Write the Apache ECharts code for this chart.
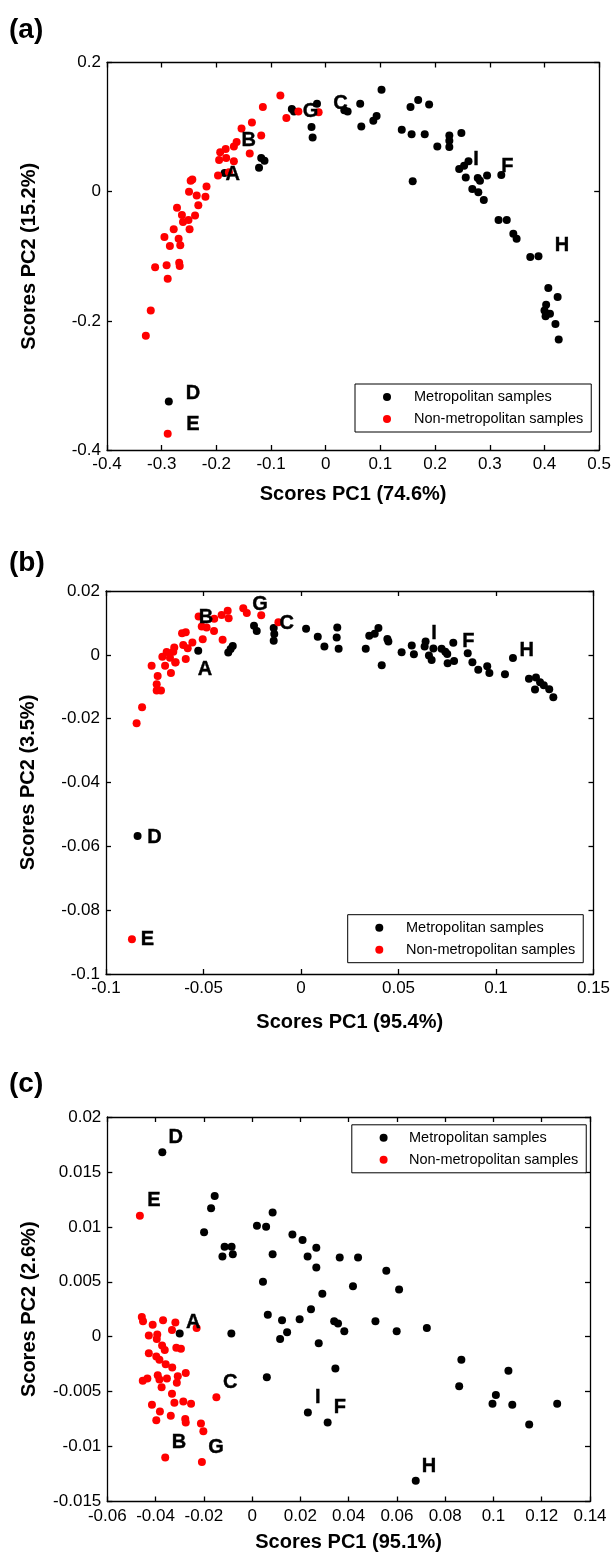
<!DOCTYPE html>
<html>
<head>
<meta charset="utf-8">
<script src="https://cdn.jsdelivr.net/npm/echarts@6/dist/echarts.min.js"></script>
<style>
html,body{margin:0;padding:0;background:#fff;}
#chart{width:614px;height:1555px;}
</style>
</head>
<body>
<div id="chart"></div>
<script>
// ---------- DATA ----------
const seriesNames = ['Metropolitan samples', 'Non-metropolitan samples'];

// Panel (a)
const metroA = [[-0.185,0.029],[-0.122,0.037],[-0.118,0.052],[-0.112,0.048],[-0.062,0.128],[-0.058,0.124],[-0.016,0.136],[-0.026,0.100],[-0.024,0.084],[0.034,0.126],[0.040,0.124],[0.063,0.136],[0.102,0.158],[0.065,0.101],[0.087,0.110],[0.093,0.117],[0.155,0.131],[0.169,0.142],[0.189,0.135],[0.139,0.096],[0.157,0.089],[0.181,0.089],[0.204,0.070],[0.226,0.087],[0.226,0.079],[0.226,0.069],[0.248,0.091],[0.159,0.016],[0.244,0.035],[0.253,0.040],[0.261,0.047],[0.256,0.022],[0.278,0.021],[0.282,0.017],[0.295,0.025],[0.321,0.026],[0.268,0.004],[0.279,-0.001],[0.289,-0.013],[0.316,-0.044],[0.331,-0.044],[0.343,-0.065],[0.349,-0.073],[0.374,-0.101],[0.389,-0.100],[0.407,-0.149],[0.424,-0.163],[0.403,-0.175],[0.400,-0.184],[0.410,-0.189],[0.402,-0.193],[0.420,-0.205],[0.426,-0.229],[-0.287,-0.325]];
const nonMetroA = [[-0.083,0.149],[-0.115,0.131],[-0.135,0.107],[-0.154,0.098],[-0.118,0.087],[-0.072,0.114],[-0.050,0.124],[-0.013,0.123],[-0.163,0.077],[-0.168,0.070],[-0.183,0.066],[-0.193,0.061],[-0.139,0.059],[-0.182,0.052],[-0.195,0.049],[-0.168,0.047],[-0.177,0.030],[-0.197,0.025],[-0.244,0.019],[-0.247,0.017],[-0.218,0.008],[-0.250,0.000],[-0.236,-0.006],[-0.220,-0.008],[-0.233,-0.021],[-0.272,-0.025],[-0.263,-0.036],[-0.239,-0.037],[-0.261,-0.047],[-0.251,-0.044],[-0.278,-0.058],[-0.249,-0.058],[-0.295,-0.070],[-0.269,-0.073],[-0.285,-0.084],[-0.266,-0.083],[-0.312,-0.117],[-0.291,-0.114],[-0.268,-0.110],[-0.267,-0.115],[-0.289,-0.135],[-0.320,-0.184],[-0.329,-0.223],[-0.289,-0.375]];
const labelsA = [[-0.170,0.026,'A'],[-0.141,0.079,'B'],[-0.028,0.124,'G'],[0.027,0.136,'C'],[0.275,0.050,'I'],[0.332,0.039,'F'],[0.432,-0.084,'H'],[-0.243,-0.313,'D'],[-0.243,-0.361,'E']];

// Panel (b)
const metroB = [[-0.0527,0.0013],[-0.0373,0.0007],[-0.0361,0.0018],[-0.0350,0.0028],[-0.0241,0.0091],[-0.0227,0.0075],[-0.0140,0.0084],[-0.0137,0.0065],[-0.0140,0.0044],[0.0026,0.0082],[0.0086,0.0057],[0.0120,0.0026],[0.0186,0.0086],[0.0183,0.0054],[0.0193,0.0019],[0.0332,0.0019],[0.0350,0.0060],[0.0378,0.0066],[0.0397,0.0084],[0.0443,0.0050],[0.0448,0.0042],[0.0414,-0.0033],[0.0516,0.0008],[0.0568,0.0029],[0.0579,0.0002],[0.0634,0.0026],[0.0639,0.0042],[0.0656,-0.0002],[0.0670,-0.0016],[0.0679,0.0020],[0.0721,0.0019],[0.0740,0.0010],[0.0750,0.0003],[0.0752,-0.0026],[0.0785,-0.0019],[0.0781,0.0038],[0.0855,0.0005],[0.0879,-0.0023],[0.0909,-0.0047],[0.0955,-0.0036],[0.0966,-0.0057],[0.1046,-0.0061],[0.1087,-0.0010],[0.1169,-0.0075],[0.1205,-0.0071],[0.1200,-0.0109],[0.1226,-0.0086],[0.1245,-0.0095],[0.1273,-0.0108],[0.1294,-0.0133],[-0.0838,-0.0568]];
const nonMetroB = [[-0.0766,-0.0034],[-0.0735,-0.0066],[-0.0711,-0.0006],[-0.0689,0.0009],[-0.0697,-0.0034],[-0.0667,-0.0057],[-0.0672,-0.0009],[-0.0650,0.0023],[-0.0643,-0.0023],[-0.0655,0.0010],[-0.0610,0.0068],[-0.0591,0.0071],[-0.0604,0.0031],[-0.0581,0.0021],[-0.0591,-0.0013],[-0.0557,0.0039],[-0.0504,0.0049],[-0.0525,0.0120],[-0.0509,0.0089],[-0.0484,0.0086],[-0.0446,0.0075],[-0.0445,0.0113],[-0.0402,0.0047],[-0.0407,0.0125],[-0.0376,0.0138],[-0.0371,0.0115],[-0.0296,0.0146],[-0.0278,0.0131],[-0.0204,0.0124],[-0.0116,0.0102],[-0.0815,-0.0164],[-0.0843,-0.0214],[-0.0740,-0.0092],[-0.0718,-0.0112],[-0.0740,-0.0112],[-0.0645,-0.0024],[-0.0867,-0.0891]];
const labelsB = [[-0.0492,-0.0047,'A'],[-0.0487,0.0117,'B'],[-0.0210,0.0157,'G'],[-0.0073,0.0099,'C'],[0.0682,0.0068,'I'],[0.0858,0.0042,'F'],[0.1157,0.0013,'H'],[-0.0752,-0.0571,'D'],[-0.0788,-0.0893,'E']];

// Panel (c)
const metroC = [[-0.0372,0.0168],[-0.0155,0.0128],[-0.0170,0.0117],[-0.0199,0.0095],[-0.0114,0.0082],[-0.0085,0.0082],[-0.0123,0.0073],[-0.0080,0.0075],[0.0020,0.0101],[0.0058,0.0100],[0.0085,0.0113],[0.0085,0.0075],[0.0167,0.0093],[0.0209,0.0088],[0.0266,0.0081],[0.0230,0.0073],[0.0266,0.0063],[0.0363,0.0072],[0.0439,0.0072],[0.0556,0.0060],[0.0418,0.0046],[0.0609,0.0043],[0.0340,0.0014],[0.0356,0.0012],[0.0382,0.0005],[0.0511,0.0014],[0.0599,0.0005],[0.0724,0.0008],[0.0345,-0.0029],[0.0867,-0.0021],[0.0858,-0.0045],[0.1062,-0.0031],[0.1010,-0.0053],[0.0996,-0.0061],[0.1078,-0.0062],[0.1264,-0.0061],[0.1148,-0.0080],[0.0678,-0.0131],[0.0313,-0.0078],[0.0231,-0.0069],[0.0045,0.0050],[0.0291,0.0039],[0.0244,0.0025],[0.0065,0.0020],[0.0124,0.0015],[0.0197,0.0016],[0.0145,0.0004],[0.0116,-0.0002],[0.0276,-0.0006],[0.0061,-0.0037],[-0.0086,0.0003],[-0.0300,0.0003]];
const nonMetroC = [[-0.0465,0.0110],[-0.0457,0.0018],[-0.0452,0.0014],[-0.0412,0.0011],[-0.0369,0.0015],[-0.0318,0.0013],[-0.0332,0.0006],[-0.0393,0.0002],[-0.0428,0.0001],[-0.0395,-0.0002],[-0.0230,0.0008],[-0.0373,-0.0008],[-0.0362,-0.0012],[-0.0314,-0.0010],[-0.0295,-0.0011],[-0.0428,-0.0015],[-0.0397,-0.0018],[-0.0384,-0.0021],[-0.0358,-0.0025],[-0.0331,-0.0028],[-0.0275,-0.0033],[-0.0453,-0.0040],[-0.0434,-0.0038],[-0.0391,-0.0035],[-0.0384,-0.0039],[-0.0353,-0.0038],[-0.0308,-0.0036],[-0.0312,-0.0042],[-0.0375,-0.0046],[-0.0332,-0.0052],[-0.0322,-0.0060],[-0.0285,-0.0059],[-0.0253,-0.0061],[-0.0415,-0.0062],[-0.0382,-0.0068],[-0.0337,-0.0072],[-0.0397,-0.0076],[-0.0277,-0.0075],[-0.0275,-0.0078],[-0.0212,-0.0079],[-0.0202,-0.0086],[-0.0148,-0.0055],[-0.0360,-0.0110],[-0.0208,-0.0114]];
const labelsC = [[-0.0244,0.0013,'A'],[-0.0091,-0.0042,'C'],[-0.0303,-0.0096,'B'],[-0.0150,-0.0101,'G'],[0.0272,-0.0055,'I'],[0.0364,-0.0064,'F'],[0.0733,-0.0118,'H'],[-0.0316,0.0181,'D'],[-0.0407,0.0124,'E']];

// Axis settings (ranges, tick intervals, titles)
const panelTitles = ['(a)', '(b)', '(c)'];
const xTitles = ['Scores PC1 (74.6%)', 'Scores PC1 (95.4%)', 'Scores PC1 (95.1%)'];
const yTitles = ['Scores PC2 (15.2%)', 'Scores PC2 (3.5%)', 'Scores PC2 (2.6%)'];
const xRanges = [[-0.4, 0.5, 0.1], [-0.1, 0.15, 0.05], [-0.06, 0.14, 0.02]];
const yRanges = [[-0.4, 0.2, 0.2], [-0.1, 0.02, 0.02], [-0.015, 0.02, 0.005]];

// ---------- LAYOUT ----------
const FONT = '"Liberation Sans", Arial, Helvetica, sans-serif';
const grids = [
  {left: 107, top: 62.5, width: 493, height: 387.5},
  {left: 106, top: 591, width: 487.5, height: 383},
  {left: 107.3, top: 1117, width: 482.7, height: 384.5}
];
const legendPos = [
  {left: 355, top: 384, markerX: 387, textX: 414},
  {left: 347.7, top: 914.7, markerX: 379.3, textX: 406},
  {left: 351.8, top: 1124.8, markerX: 383.6, textX: 409}
];
const titleTops = [16, 549, 1070];
const xNameGaps = [34, 38, 31];

const fmt = v => String(parseFloat(v.toFixed(4)));
const lineStyle = {color: '#000', width: 1.3};

const xAxes = [], yAxes = [], series = [], legends = [], titles = [];
const metro = [metroA, metroB, metroC];
const nonMetro = [nonMetroA, nonMetroB, nonMetroC];
const labels = [labelsA, labelsB, labelsC];

for (let i = 0; i < 3; i++) {
  const [xmin, xmax, xint] = xRanges[i];
  const [ymin, ymax, yint] = yRanges[i];
  xAxes.push({
    type: 'value', gridIndex: i, min: xmin, max: xmax, interval: xint, position: 'bottom',
    name: xTitles[i], nameLocation: 'middle', nameGap: xNameGaps[i],
    nameTextStyle: {fontFamily: FONT, fontWeight: 'bold', fontSize: 20, color: '#000'},
    axisLine: {show: true, onZero: false, lineStyle},
    axisTick: {show: true, inside: true, length: 5, lineStyle},
    axisLabel: {show: true, formatter: fmt, fontFamily: FONT, fontSize: 17, color: '#000', margin: 6},
    splitLine: {show: false}
  });
  xAxes.push({
    type: 'value', gridIndex: i, min: xmin, max: xmax, interval: xint, position: 'top',
    axisLine: {show: true, onZero: false, lineStyle},
    axisTick: {show: true, inside: true, length: 5, lineStyle},
    axisLabel: {show: false}, splitLine: {show: false}
  });
  yAxes.push({
    type: 'value', gridIndex: i, min: ymin, max: ymax, interval: yint, position: 'left',
    name: yTitles[i], nameLocation: 'middle', nameGap: 68,
    nameTextStyle: {fontFamily: FONT, fontWeight: 'bold', fontSize: 20, color: '#000'},
    axisLine: {show: true, onZero: false, lineStyle},
    axisTick: {show: true, inside: true, length: 5, lineStyle},
    axisLabel: {show: true, formatter: fmt, fontFamily: FONT, fontSize: 17, color: '#000', margin: 6},
    splitLine: {show: false}
  });
  yAxes.push({
    type: 'value', gridIndex: i, min: ymin, max: ymax, interval: yint, position: 'right',
    axisLine: {show: true, onZero: false, lineStyle},
    axisTick: {show: true, inside: true, length: 5, lineStyle},
    axisLabel: {show: false}, splitLine: {show: false}
  });
  series.push({
    name: seriesNames[0], type: 'scatter', xAxisIndex: 2 * i, yAxisIndex: 2 * i,
    data: metro[i], symbol: 'circle', symbolSize: 8,
    itemStyle: {color: '#000', opacity: 1}, emphasis: {disabled: true}, z: 2
  });
  series.push({
    name: seriesNames[1], type: 'scatter', xAxisIndex: 2 * i, yAxisIndex: 2 * i,
    data: nonMetro[i], symbol: 'circle', symbolSize: 8,
    itemStyle: {color: '#ff0000', opacity: 1}, emphasis: {disabled: true}, z: 3
  });
  series.push({
    name: 'labels' + i, type: 'scatter', xAxisIndex: 2 * i, yAxisIndex: 2 * i,
    data: labels[i], symbol: 'circle', symbolSize: 0.01, silent: true, z: 4,
    itemStyle: {color: '#000', opacity: 1},
    label: {show: true, position: 'inside', formatter: p => p.value[2],
      fontFamily: FONT, fontWeight: 'bold', fontSize: 20, color: '#000', opacity: 1,
      textBorderWidth: 0.4, textBorderColor: '#000'}
  });
  const lp = legendPos[i];
  const padLeft = lp.markerX - 4 - lp.left;
  legends.push({
    left: lp.left, top: lp.top, orient: 'vertical',
    data: seriesNames.slice(), icon: 'circle', itemWidth: 8, itemHeight: 8, itemGap: 6,
    padding: [5, 8, 5, padLeft], backgroundColor: '#fff',
    borderColor: '#000', borderWidth: 1, borderRadius: 0,
    selectedMode: false,
    textStyle: {fontFamily: FONT, fontSize: 14.5, color: '#000', lineHeight: 16,
      padding: [0, 0, 0, lp.textX - (lp.markerX + 4) - 5]}
  });
  titles.push({
    text: panelTitles[i], left: 9, top: titleTops[i], padding: 0,
    textStyle: {fontFamily: FONT, fontWeight: 'bold', fontSize: 28, color: '#000'}
  });
}

const chart = echarts.init(document.getElementById('chart'), null, {renderer: 'canvas'});
chart.setOption({
  backgroundColor: '#fff',
  animation: false,
  title: titles,
  legend: legends,
  grid: grids,
  xAxis: xAxes,
  yAxis: yAxes,
  series: series
});
</script>
</body>
</html>
